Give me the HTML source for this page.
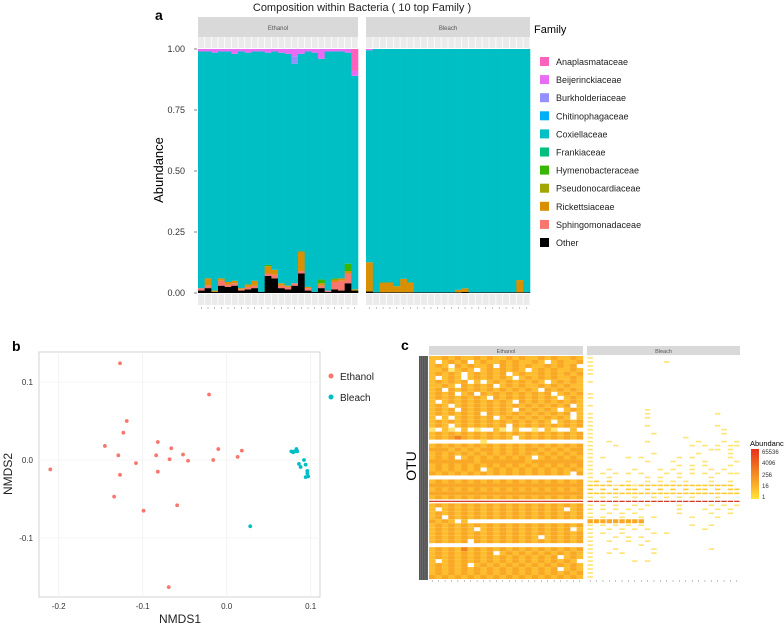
<!DOCTYPE html>
<html><head><meta charset="utf-8"><style>
body{margin:0;background:#fff;}
svg{display:block;font-family:"Liberation Sans",sans-serif;}
</style></head><body>
<svg id="root" width="784" height="628" viewBox="0 0 784 628">
<text x="155" y="20" font-size="14" font-weight="bold">a</text>
<text x="362" y="11" font-size="11" text-anchor="middle" fill="#222">Composition within Bacteria ( 10 top Family )</text>
<text x="0" y="0" font-size="13" text-anchor="middle" transform="translate(163,170) rotate(-90)">Abundance</text>
<text x="534" y="33" font-size="11">Family</text>
<g id="pa"></g>
<g id="pal"></g>
<text x="12" y="351" font-size="14" font-weight="bold">b</text>
<g id="pb"></g>
<text x="180" y="623" font-size="12" text-anchor="middle" fill="#222">NMDS1</text>
<text x="0" y="0" font-size="12" text-anchor="middle" fill="#222" transform="translate(12,474) rotate(-90)">NMDS2</text>
<text x="401" y="350" font-size="14" font-weight="bold">c</text>
<text x="0" y="0" font-size="14" text-anchor="middle" transform="translate(416,466) rotate(-90)">OTU</text>
<g id="pc"></g>
<g>
<defs><linearGradient id="grad" x1="0" y1="0" x2="0" y2="1"><stop offset="0" stop-color="#E8301C"/><stop offset="0.4" stop-color="#F07A20"/><stop offset="0.75" stop-color="#FBB42A"/><stop offset="1" stop-color="#FFE53A"/></linearGradient></defs>
<text x="750" y="446" font-size="7.5">Abundance</text>
<rect x="751" y="449" width="8" height="50" fill="url(#grad)"/>
<g font-size="6" fill="#333"><text x="762" y="454">65536</text><text x="762" y="465">4096</text><text x="762" y="477">256</text><text x="762" y="488">16</text><text x="762" y="499">1</text></g>
</g>
</svg>
<script>
const families = ["Anaplasmataceae","Beijerinckiaceae","Burkholderiaceae","Chitinophagaceae","Coxiellaceae","Frankiaceae","Hymenobacteraceae","Pseudonocardiaceae","Rickettsiaceae","Sphingomonadaceae","Other"];
const famColors = ["#FF62BC","#E76BF3","#9590FF","#00B0F6","#00BFC4","#00BF7D","#39B600","#A3A500","#D89000","#F8766D","#000000"];
const ethOther = [0.01,0.02,0.005,0.03,0.025,0.03,0.01,0.015,0.02,0.005,0.07,0.06,0.02,0.015,0.03,0.08,0.01,0.005,0.02,0.005,0.015,0.01,0.04,0.01];
const ethSphingo = [0.01,0.01,0,0.02,0.01,0.01,0.005,0.01,0.01,0,0.01,0.015,0.01,0.01,0.01,0.01,0.01,0,0.01,0.005,0.03,0.04,0.04,0];
const ethRicket = [0,0.03,0.005,0.01,0.01,0.01,0.005,0.01,0.02,0,0.03,0.02,0.01,0.005,0,0.08,0.005,0,0.01,0,0.01,0.01,0.01,0.005];
const ethHymeno = [0,0,0,0,0,0,0,0,0,0,0.005,0,0,0,0,0,0,0,0.015,0,0.005,0,0.03,0];
const ethBeij = [0.01,0.01,0.015,0.01,0.01,0.02,0.01,0.015,0.01,0.01,0.015,0.01,0.015,0.02,0.03,0.02,0.01,0.015,0.04,0.01,0.01,0.01,0.015,0.02];
const ethBurk = [0,0,0,0,0,0,0,0,0,0,0,0,0,0,0.03,0,0,0,0,0,0,0,0,0];
const ethAnapl = [0,0,0,0,0,0,0,0,0,0,0,0,0,0,0,0,0,0,0,0,0,0,0,0.09];
const blOther = [0.006,0.003,0.003,0.003,0.003,0.003,0.003,0.003,0.003,0.003,0.003,0.003,0.003,0.003,0.004,0.003,0.003,0.003,0.003,0.003,0.003,0.003,0.003,0.003];
const blRicket = [0.12,0,0.04,0.04,0.025,0.055,0.04,0,0,0,0,0,0,0.01,0.015,0,0,0,0,0,0,0,0.05,0];
const blBeij = [0.005,0,0,0,0,0,0,0,0,0,0,0,0,0,0,0,0,0,0,0,0,0,0,0];
const yTicks = [0,0.25,0.5,0.75,1];
const yTickLabels = ["0.00","0.25","0.50","0.75","1.00"];

const NS="http://www.w3.org/2000/svg";
function mk(tag,attrs,parent){const e=document.createElementNS(NS,tag);for(const k in attrs)e.setAttribute(k,attrs[k]);parent.appendChild(e);return e;}
const pa=document.getElementById('pa');
const aY0=293,aY1=49;
function drawFacet(x0,x1,name,cols,label){
  const n=cols.other.length, w=(x1-x0)/n;
  let s=mk('rect',{x:x0,y:17,width:x1-x0,height:20,fill:'#D9D9D9'},pa);
  
  
  let t=mk('text',{x:(x0+x1)/2,y:30,'font-size':6,'text-anchor':'middle',fill:'#555'},pa);t.textContent=label;
  
  
  mk('rect',{x:x0,y:37,width:x1-x0,height:11,fill:'#EBEBEB'},pa);
  mk('rect',{x:x0,y:294,width:x1-x0,height:11,fill:'#EBEBEB'},pa);
  for(let i=0;i<n;i++){
    const bx=x0+i*w;
    mk('line',{x1:bx+w,y1:37,x2:bx+w,y2:48,stroke:'#fff','stroke-width':0.8},pa);
    mk('line',{x1:bx+w,y1:294,x2:bx+w,y2:305,stroke:'#fff','stroke-width':0.8},pa);
    mk('line',{x1:bx+w/2,y1:307,x2:bx+w/2,y2:309,stroke:'#999','stroke-width':0.6},pa);
    const stack=[['Other',cols.other[i]],['Sphingomonadaceae',cols.sph[i]],['Rickettsiaceae',cols.ric[i]],['Hymenobacteraceae',cols.hym[i]]];
    const top=[['Anaplasmataceae',cols.ana[i]],['Beijerinckiaceae',cols.bei[i]],['Burkholderiaceae',cols.bur[i]]];
    let sumBottom=stack.reduce((a,b)=>a+b[1],0), sumTop=top.reduce((a,b)=>a+b[1],0);
    const cox=1-sumBottom-sumTop;
    const all=stack.concat([['Coxiellaceae',cox]]).concat(top.slice().reverse());
    let cum=0;
    all.forEach(([f,v])=>{
      if(v<=0)return;
      const yTop=aY0-(aY0-aY1)*(cum+v), yBot=aY0-(aY0-aY1)*cum;
      const r=mk('rect',{x:bx,y:yTop,width:w+0.3,height:yBot-yTop,fill:famColors[families.indexOf(f)]},pa);
      
      
      cum+=v;
    });
  }
}
drawFacet(198,358,'ethanol',{other:ethOther,sph:ethSphingo,ric:ethRicket,hym:ethHymeno,ana:ethAnapl,bei:ethBeij,bur:ethBurk},'Ethanol');
const zeros=blOther.map(()=>0);
drawFacet(366,530,'bleach',{other:blOther,sph:zeros,ric:blRicket,hym:zeros,ana:zeros,bei:blBeij,bur:zeros},'Bleach');
yTicks.forEach((v,i)=>{
  const y=aY0-(aY0-aY1)*v;
  const t=mk('text',{x:185,y:y+3,'font-size':9,'text-anchor':'end',fill:'#333'},pa);t.textContent=yTickLabels[i];
  
  
  mk('line',{x1:194,y1:y,x2:197,y2:y,stroke:'#333','stroke-width':0.6},pa);
});
const pal=document.getElementById('pal');
families.forEach((f,i)=>{
  const y=62+i*18.1;
  const r=mk('rect',{x:540,y:y-5,width:9,height:9,fill:famColors[i]},pal);
  
  
  const t=mk('text',{x:556,y:y+3,'font-size':9,fill:'#222'},pal);t.textContent=f;
  
  
});

const ethX=[-0.127,-0.021,-0.119,-0.123,-0.145,-0.082,-0.129,-0.084,-0.066,-0.010,0.018,0.013,-0.052,-0.068,-0.046,-0.016,-0.108,-0.210,-0.127,-0.082,-0.134,-0.099,-0.059,-0.069];
const ethY=[0.124,0.084,0.050,0.035,0.018,0.023,0.006,0.006,0.015,0.014,0.012,0.004,0.007,0.001,-0.001,0.000,-0.004,-0.012,-0.019,-0.015,-0.047,-0.065,-0.058,-0.163];
const blX=[0.028,0.077,0.079,0.081,0.083,0.084,0.092,0.094,0.086,0.088,0.096,0.096,0.094,0.097];
const blY=[-0.085,0.011,0.010,0.011,0.014,0.011,0.000,-0.006,-0.005,-0.009,-0.014,-0.017,-0.022,-0.021];
const bXTicks=[-0.2,-0.1,0.0,0.1], bXLabels=["-0.2","-0.1","0.0","0.1"];
const bYTicks=[0.1,0.0,-0.1], bYLabels=["0.1","0.0","-0.1"];
const pb=document.getElementById('pb');
function xb(v){return 226.7+v*840;}
function yb(v){return 460-v*780;}
mk('rect',{x:39,y:352,width:281,height:245,fill:'#fff',stroke:'#c8c8c8','stroke-width':0.8},pb);
bXTicks.forEach((v,i)=>{
  mk('line',{x1:xb(v),y1:352,x2:xb(v),y2:597,stroke:'#f0f0f0','stroke-width':0.8},pb);
  const t=mk('text',{x:xb(v),y:609,'font-size':8,'text-anchor':'middle',fill:'#333'},pb);t.textContent=bXLabels[i];
  
  
});
bYTicks.forEach((v,i)=>{
  mk('line',{x1:39,y1:yb(v),x2:320,y2:yb(v),stroke:'#f0f0f0','stroke-width':0.8},pb);
  const t=mk('text',{x:33,y:yb(v)+3,'font-size':8,'text-anchor':'end',fill:'#333'},pb);t.textContent=bYLabels[i];
  
  
});
ethX.forEach((v,i)=>{
  const c=mk('circle',{cx:xb(v),cy:yb(ethY[i]),r:1.9,fill:'#F8766D'},pb);
  
  
});
blX.forEach((v,i)=>{
  const c=mk('circle',{cx:xb(v),cy:yb(blY[i]),r:1.9,fill:'#00BFC4'},pb);
  
  
});
[['Ethanol','#F8766D',376],['Bleach','#00BFC4',397]].forEach(([n,c,y])=>{
  const d=mk('circle',{cx:331,cy:y,r:2.5,fill:c},pb);
  
  
  const t=mk('text',{x:340,y:y+4,'font-size':10,fill:'#222'},pb);t.textContent=n;
  
  
});

const heatEth=[
"334343343433434334343343","3.3434.34334343343.34334","343.434334.434343343434.","3341343.3434343.34343343",
"34343.343434.34334343434","3.343.3434343.3434343343","343434.3.343434343.34343","3343.43434.3434334343433",
"34.43434343434343.434343","3434.34.43434343434.3434","343434343.4343434343.343","3.34343434343.4343434343",
"343.343434343434343434.3","3434.43434343.434343.343","34343434.4343434343434.3","3.3.343434.34343434343.3",
"3434343434343434343.3434","343.34343434.43434343434","1.31.3.1..31.3..1.31..3.1","343434343434343434343434",
"3434543434343.3434343434","........1...............","343434343434343434343434","444343434434343443434344",
"343434343434343434343434","3434.34343434343.3434343","444444434444444344444444","343434343434343434343434",
"34343434.343434343434343","4343434343434343434343.4","........................","343434343434343434343434",
"444444444444444444444444","343434343434343434343434","444444444444444444444444","343434343434343434343434",
"666666666666666666666666","343434343434343434343434","3.3434343434343434343.34","343434343434343434343434",
"34.434343434343434343434","4343.3..................","343434343434343434343434","3434343.34343434343434.3",
"343434343434343434343434","34343434343434343.343434","343434.43434343434343434","........................",
"343435343434343434343434","3434343434.3434343434343","34343434343434343434.343","3.343434343434343434343.",
"343434.34343434343434343","34343434343434343434.343","343434343434343434343434","434343434343434343434343"];
const heatBl=[
"1.......................","1...........1...........","1.......................","1.......................",
"1.......................","........................","1.......................","........................",
"........................","1.......................","1.......................","........................",
"1.......................",".........1..............","1........1..........1...","1........1..............",
"1.......................","1........1..........1...","1....................1..","1.........1..........1..",
"1..............1........","1..1.....1.......1...1.1","1...1...........1.1.1.11","1..................11.1.",
"1.........1......1....1.","1.1...1.1.....1.1.....1.","1........1...1....1....1","1.............1.1.1...1.",
"1..1...1...1.1..1..1.1..","1.1.1.1.1...1.1.1.1.1.11","1..1.....1.1..1....1....","12.2..1..1.1.1.1...1..1.",
"22221221222222222222222.","2.2.2.22.2.2.2.2.22.2.22","2222222222222222222222221","1.1.1..1..1.1.1.1...1...",
"666666666666666666666666","1.1.1..1.1....1....1.1.1","1.1.1.1.1.....1...1.1.1.","1..1.1.1......1....1..1.",
"1.1..1..1.1.....1...1...","444444444...............","1.1.1.1.1.......1..1....","1..1.1.1.1........1.....",
"1.1..1....1.1...........","1...1.1.1...............","1..1..1..1..............","1.......1...............",
"1...1.....1........1....","1..1.1....1.............","1.......................","1......1.1..............",
"1.......................","1.......................","1.......................","1......................."];
const heatColors={"1":"#FFE470","2":"#FFCB35","3":"#FDBD2E","4":"#F9A826","5":"#F2811F","6":"#D2321A"};
const pc=document.getElementById('pc');
const cTop=356,cBot=579;
function drawHeat(rows,x0,x1,name,label,thin){
  const s=mk('rect',{x:x0,y:346,width:x1-x0,height:9,fill:'#D9D9D9'},pc);
  
  
  const t=mk('text',{x:(x0+x1)/2,y:353,'font-size':5.5,'text-anchor':'middle',fill:'#555'},pc);t.textContent=label;
  
  
  const nr=rows.length,nc=24,cw=(x1-x0)/nc,rh=(cBot-cTop)/nr;
  rows.forEach((row,r)=>{
    for(let c=0;c<nc;c++){
      const ch=row[c];
      if(!heatColors[ch])continue;
      let h=rh, y=cTop+r*rh;
      if(ch==='6'){h=1.2;y=cTop+r*rh+rh/2-0.6;}
      else if(thin && ch!=='4'){h=1.6;y=cTop+r*rh+rh/2-0.8;}
      const rect=mk('rect',{x:x0+c*cw+(thin?0.5:0),y:y,width:cw-(thin?1:-0.2),height:h,fill:heatColors[ch]},pc);
      
      
    }
  });
  for(let c=0;c<nc;c++)mk('line',{x1:x0+(c+0.5)*cw,y1:580,x2:x0+(c+0.5)*cw,y2:582,stroke:'#888','stroke-width':0.5},pc);
}
drawHeat(heatEth,429,583,'ethanol','Ethanol',false);
drawHeat(heatBl,587,740,'bleach','Bleach',true);
mk('rect',{x:419,y:356,width:9,height:224,fill:'#555'},pc);
for(let i=0;i<4;i++)mk('line',{x1:420.5+i*2.2,y1:356,x2:420.5+i*2.2,y2:580,stroke:'#888','stroke-width':0.4},pc);
</script>
</body></html>
